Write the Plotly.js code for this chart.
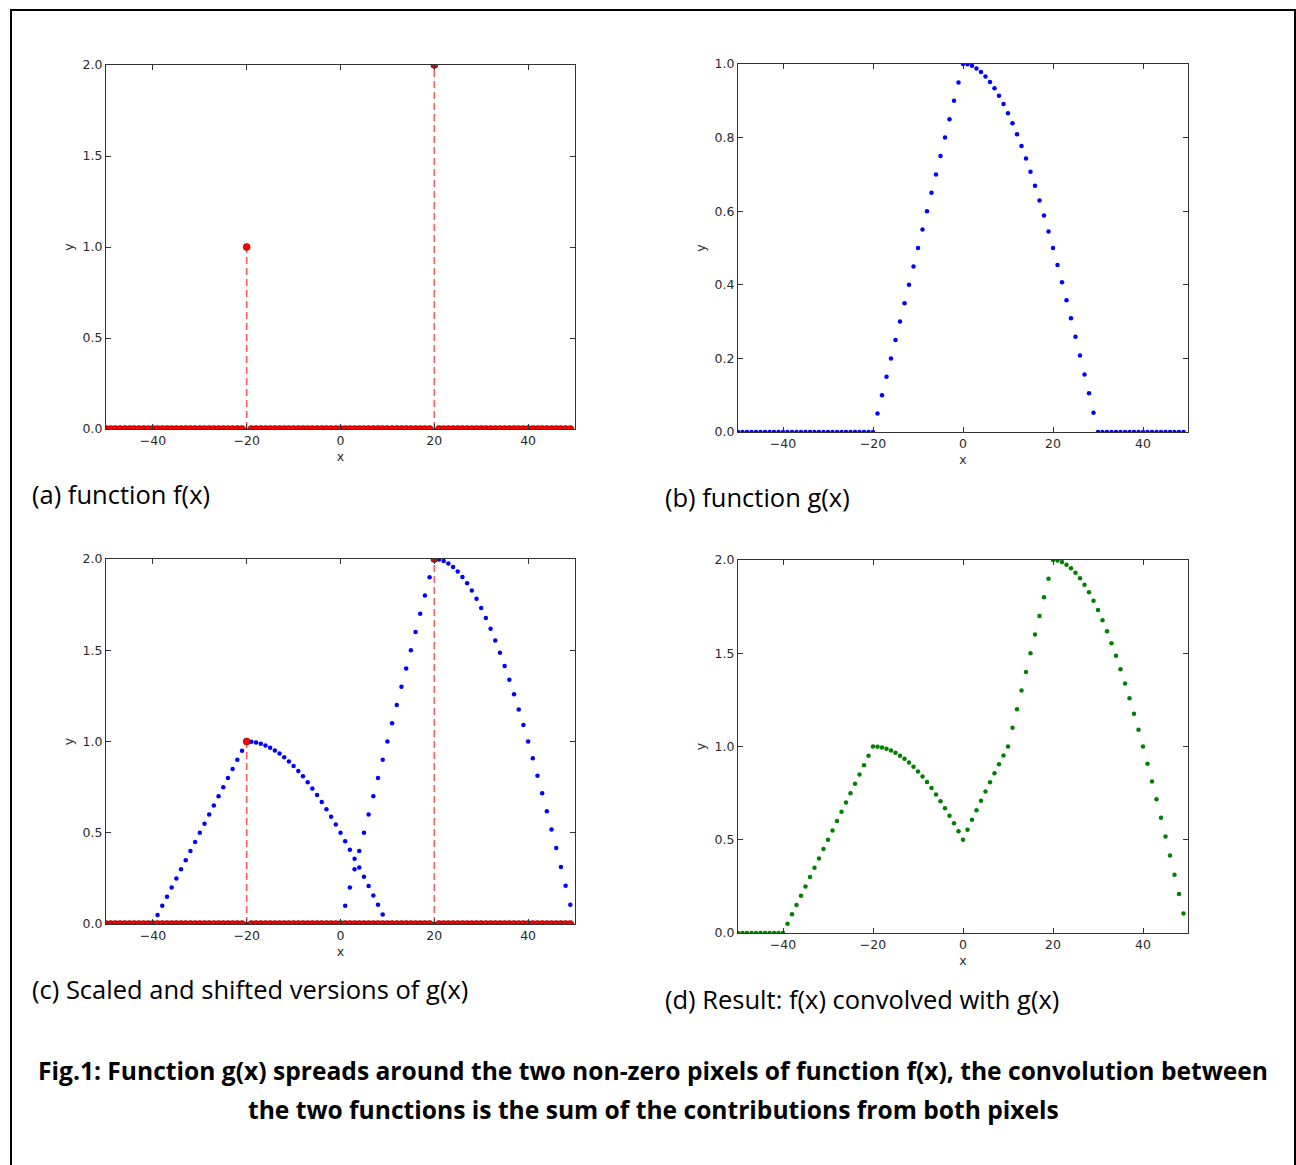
<!DOCTYPE html>
<html>
<head>
<meta charset="utf-8">
<script src="https://cdn.plot.ly/plotly-3.0.1.min.js"></script>
<style>
  html, body { margin: 0; padding: 0; background: #fff; }
  #chart { width: 1296px; height: 1165px; }
</style>
</head>
<body>
<div id="chart"></div>
<script>
// ---------- data ----------
// sample positions x = -50 ... 49
const xs = [-50,-49,-48,-47,-46,-45,-44,-43,-42,-41,-40,-39,-38,-37,-36,-35,-34,-33,-32,-31,
  -30,-29,-28,-27,-26,-25,-24,-23,-22,-21,-20,-19,-18,-17,-16,-15,-14,-13,-12,-11,
  -10,-9,-8,-7,-6,-5,-4,-3,-2,-1,0,1,2,3,4,5,6,7,8,9,
  10,11,12,13,14,15,16,17,18,19,20,21,22,23,24,25,26,27,28,29,
  30,31,32,33,34,35,36,37,38,39,40,41,42,43,44,45,46,47,48,49];

// (a) f(x): two non-zero pixels
const fVals = [0,0,0,0,0,0,0,0,0,0,0,0,0,0,0,0,0,0,0,0,
  0,0,0,0,0,0,0,0,0,0,1,0,0,0,0,0,0,0,0,0,
  0,0,0,0,0,0,0,0,0,0,0,0,0,0,0,0,0,0,0,0,
  0,0,0,0,0,0,0,0,0,0,2,0,0,0,0,0,0,0,0,0,
  0,0,0,0,0,0,0,0,0,0,0,0,0,0,0,0,0,0,0,0];

// (b) g(x)
const gVals = [0,0,0,0,0,0,0,0,0,0,0,0,0,0,0,0,0,0,0,0,
  0,0,0,0,0,0,0,0,0,0,0,0.05,0.1,0.15,0.2,0.25,0.3,0.35,0.4,0.45,
  0.5,0.55,0.6,0.65,0.7,0.75,0.8,0.85,0.9,0.95,1.0,0.999,0.995,0.988,0.978,0.966,0.951,0.934,0.914,0.891,
  0.866,0.839,0.809,0.777,0.743,0.707,0.669,0.629,0.588,0.545,0.5,0.454,0.407,0.358,0.309,0.259,0.208,0.156,0.105,0.052,
  0,0,0,0,0,0,0,0,0,0,0,0,0,0,0,0,0,0,0,0];

// (c) g(x) shifted to -20 (scale 1) and to +20 (scale 2)
const gLeft = [0,0,0,0,0,0,0,0,0,0,0,0.05,0.1,0.15,0.2,0.25,0.3,0.35,0.4,0.45,
  0.5,0.55,0.6,0.65,0.7,0.75,0.8,0.85,0.9,0.95,1.0,0.999,0.995,0.988,0.978,0.966,0.951,0.934,0.914,0.891,
  0.866,0.839,0.809,0.777,0.743,0.707,0.669,0.629,0.588,0.545,0.5,0.454,0.407,0.358,0.309,0.259,0.208,0.156,0.105,0.052,
  0,0,0,0,0,0,0,0,0,0,0,0,0,0,0,0,0,0,0,0,
  0,0,0,0,0,0,0,0,0,0,0,0,0,0,0,0,0,0,0,0];
const gRight = [0,0,0,0,0,0,0,0,0,0,0,0,0,0,0,0,0,0,0,0,
  0,0,0,0,0,0,0,0,0,0,0,0,0,0,0,0,0,0,0,0,
  0,0,0,0,0,0,0,0,0,0,0,0.1,0.2,0.3,0.4,0.5,0.6,0.7,0.8,0.9,
  1.0,1.1,1.2,1.3,1.4,1.5,1.6,1.7,1.8,1.9,2.0,1.997,1.989,1.975,1.956,1.932,1.902,1.867,1.827,1.782,
  1.732,1.677,1.618,1.554,1.486,1.414,1.338,1.259,1.176,1.090,1.0,0.908,0.813,0.717,0.618,0.518,0.416,0.313,0.209,0.105];

// (d) f(x) convolved with g(x)
const convVals = [0,0,0,0,0,0,0,0,0,0,0,0.05,0.1,0.15,0.2,0.25,0.3,0.35,0.4,0.45,
  0.5,0.55,0.6,0.65,0.7,0.75,0.8,0.85,0.9,0.95,1.0,0.999,0.995,0.988,0.978,0.966,0.951,0.934,0.914,0.891,
  0.866,0.839,0.809,0.777,0.743,0.707,0.669,0.629,0.588,0.545,0.5,0.554,0.607,0.658,0.709,0.759,0.808,0.856,0.905,0.952,
  1.0,1.1,1.2,1.3,1.4,1.5,1.6,1.7,1.8,1.9,2.0,1.997,1.989,1.975,1.956,1.932,1.902,1.867,1.827,1.782,
  1.732,1.677,1.618,1.554,1.486,1.414,1.338,1.259,1.176,1.090,1.0,0.908,0.813,0.717,0.618,0.518,0.416,0.313,0.209,0.105];

const xTicks = [-40, -20, 0, 20, 40];
const yTicks2 = [0, 0.5, 1.0, 1.5, 2.0];
const yTicks1 = [0, 0.2, 0.4, 0.6, 0.8, 1.0];

const captions = ["(a) function f(x)", "(b) function g(x)",
  "(c) Scaled and shifted versions of g(x)", "(d) Result: f(x) convolved with g(x)"];
const figLine1 = "Fig.1: Function g(x) spreads around the two non-zero pixels of function f(x), the convolution between";
const figLine2 = "the two functions is the sum of the contributions from both pixels";

// ---------- styling ----------
const W = 1296, H = 1165;
const px = v => v / W;
const py = v => 1 - v / H;
const RED = '#ff0000';
const BLUE = '#0000ff';
const GREEN = '#008000';

function stemTraces(xa, ya) {
  const sx = [], sy = [];
  for (let i = 0; i < xs.length; i++) {
    if (fVals[i] !== 0) { sx.push(xs[i], xs[i], null); sy.push(0, fVals[i], null); }
  }
  return [
    { x: sx, y: sy, xaxis: xa, yaxis: ya, mode: 'lines', type: 'scatter', hoverinfo: 'skip',
      line: { color: 'rgba(255,40,40,0.75)', width: 1.6, dash: '7px,4px' } },
    { x: [xs[0], xs[xs.length - 1]], y: [0, 0], xaxis: xa, yaxis: ya, mode: 'lines', type: 'scatter',
      line: { color: RED, width: 1.5 } },
    { x: xs, y: fVals, xaxis: xa, yaxis: ya, mode: 'markers', type: 'scatter',
      marker: { color: RED, size: 7, line: { color: '#7a0000', width: 0.6 } } }
  ];
}

function dots(y, color, xa, ya) {
  return { x: xs, y: y, xaxis: xa, yaxis: ya, mode: 'markers', type: 'scatter',
    marker: { color: color, size: 4.5, line: { width: 0 } } };
}

const traces = [].concat(
  stemTraces('x', 'y'),
  [dots(gVals, BLUE, 'x2', 'y2')],
  [dots(gLeft, BLUE, 'x3', 'y3'), dots(gRight, BLUE, 'x3', 'y3')],
  stemTraces('x3', 'y3'),
  [dots(convVals, GREEN, 'x4', 'y4')]
);

const tickFont = { family: 'DejaVu Sans, sans-serif', size: 12.5, color: '#2a2a2a' };
const axTitleFont = { family: 'DejaVu Sans, sans-serif', size: 12.5, color: '#2a2a2a' };
function xAxis(domain, anchor) {
  return { domain: domain, anchor: anchor, range: [-50, 50], tickvals: xTicks,
    ticks: 'inside', ticklen: 5, tickcolor: '#333', tickwidth: 1,
    showline: true, linecolor: '#333', linewidth: 1, mirror: 'ticks',
    showgrid: false, zeroline: false, tickfont: tickFont,
    title: { text: 'x', font: axTitleFont, standoff: 5 } };
}
function yAxis(domain, anchor, maxv, ticks, fmt) {
  return { domain: domain, anchor: anchor, range: [0, maxv], tickvals: ticks, tickformat: fmt,
    ticks: 'inside', ticklen: 5, tickcolor: '#333', tickwidth: 1,
    showline: true, linecolor: '#333', linewidth: 1, mirror: 'ticks',
    showgrid: false, zeroline: false, tickfont: tickFont,
    title: { text: 'y', font: axTitleFont, standoff: 6 } };
}

const capFont = { family: 'Open Sans, sans-serif', size: 25.5, color: '#000' };
const boldFont = { family: 'Open Sans, sans-serif', size: 24.6, color: '#000' };

const layout = {
  width: W, height: H,
  margin: { l: 0, r: 0, t: 0, b: 0 },
  paper_bgcolor: '#fff', plot_bgcolor: '#fff',
  showlegend: false,
  xaxis: xAxis([px(106), px(575)], 'y'),
  yaxis: yAxis([py(429), py(65)], 'x', 2, yTicks2, '.1f'),
  xaxis2: xAxis([px(738), px(1188)], 'y2'),
  yaxis2: yAxis([py(432), py(64)], 'x2', 1, yTicks1, '.1f'),
  xaxis3: xAxis([px(106), px(575)], 'y3'),
  yaxis3: yAxis([py(924), py(559)], 'x3', 2, yTicks2, '.1f'),
  xaxis4: xAxis([px(738), px(1188)], 'y4'),
  yaxis4: yAxis([py(933), py(560)], 'x4', 2, yTicks2, '.1f'),
  shapes: [
    { type: 'rect', xref: 'paper', yref: 'paper', x0: px(11), x1: px(1295), y0: -0.02, y1: py(10),
      line: { color: '#000', width: 2 }, fillcolor: 'rgba(0,0,0,0)' }
  ],
  annotations: [
    { text: captions[0], xref: 'paper', yref: 'paper', x: px(30), y: py(494), xanchor: 'left', yanchor: 'middle', showarrow: false, font: capFont },
    { text: captions[1], xref: 'paper', yref: 'paper', x: px(663), y: py(497), xanchor: 'left', yanchor: 'middle', showarrow: false, font: capFont },
    { text: captions[2], xref: 'paper', yref: 'paper', x: px(30), y: py(989), xanchor: 'left', yanchor: 'middle', showarrow: false, font: capFont },
    { text: captions[3], xref: 'paper', yref: 'paper', x: px(663), y: py(999), xanchor: 'left', yanchor: 'middle', showarrow: false, font: capFont },
    { text: '<b>' + figLine1 + '</b>', xref: 'paper', yref: 'paper', x: px(653), y: py(1070), xanchor: 'center', yanchor: 'middle', showarrow: false, font: boldFont },
    { text: '<b>' + figLine2 + '</b>', xref: 'paper', yref: 'paper', x: px(653), y: py(1109), xanchor: 'center', yanchor: 'middle', showarrow: false, font: boldFont }
  ]
};

Plotly.newPlot('chart', traces, layout, { staticPlot: true, displayModeBar: false });
</script>
</body>
</html>
